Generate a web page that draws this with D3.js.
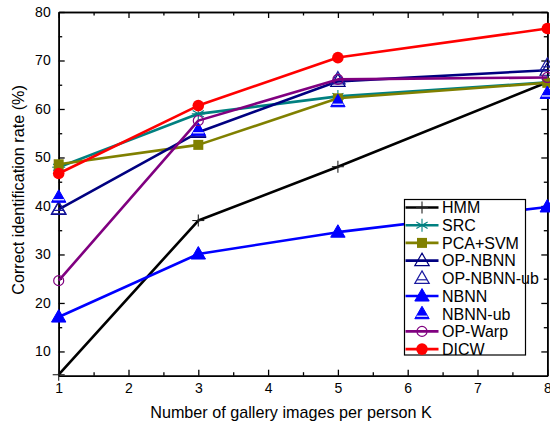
<!DOCTYPE html>
<html>
<head>
<meta charset="utf-8">
<script src="https://cdn.jsdelivr.net/npm/d3@7"></script>
<style>
  html, body { margin: 0; padding: 0; background: #fff; }
  svg { display: block; font-family: "Liberation Sans", Arial, sans-serif; }
</style>
</head>
<body>
<svg id="chart" width="550" height="430"></svg>
<script>
// Gallery sizes (images per person) on the x axis
const galleryK = [1, 3, 5, 8];

// Recognition rates (%) per method
const hmm      = [5.2, 37.0, 48.1, 65.5];
const src      = [48.0, 59.0, 62.6, 65.5];
const pcaSvm   = [48.6, 52.6, 62.2, 65.4];
const opNbnn   = [39.3, 55.2, 65.7, 68.0];
const opNbnnUb = [39.4, 55.4, 66.2, 69.0];
const nbnn     = [17.1, 30.1, 34.6, 39.8];
const nbnnUb   = [41.8, 55.6, 61.5, 63.2];
const opWarp   = [24.6, 57.6, 66.1, 66.5];
const dicw     = [46.7, 60.7, 70.6, 76.6];

const methodNames = ["HMM", "SRC", "PCA+SVM", "OP-NBNN", "OP-NBNN-ub", "NBNN", "NBNN-ub", "OP-Warp", "DICW"];

const xTicks = [1, 2, 3, 4, 5, 6, 7, 8];
const yTicks = [10, 20, 30, 40, 50, 60, 70, 80];

const series = [
  { name: methodNames[0], values: hmm,      color: "#000000", line: true,  marker: "plus" },
  { name: methodNames[1], values: src,      color: "#008080", line: true,  marker: "asterisk" },
  { name: methodNames[2], values: pcaSvm,   color: "#808000", line: true,  marker: "square" },
  { name: methodNames[3], values: opNbnn,   color: "#000080", line: true,  marker: "triOpen" },
  { name: methodNames[4], values: opNbnnUb, color: "#1a1aa0", line: false, marker: "triOpenBar" },
  { name: methodNames[5], values: nbnn,     color: "#0000ff", line: true,  marker: "triFilled" },
  { name: methodNames[6], values: nbnnUb,   color: "#0000ff", line: false, marker: "triFilledBar" },
  { name: methodNames[7], values: opWarp,   color: "#800080", line: true,  marker: "circleOpen" },
  { name: methodNames[8], values: dicw,     color: "#ff0000", line: true,  marker: "circleFilled" }
];

const svg = d3.select("#chart");
const plotLeft = 58.7, plotRight = 547.3, plotTop = 12, plotBottom = 375.7;

const x = d3.scaleLinear().domain([1, 8]).range([plotLeft, plotRight]);
const y = d3.scaleLinear().domain([5, 80]).range([plotBottom, plotTop]);

// Axes: ticks point inward on all four sides
function styleAxis(g) {
  g.select(".domain").attr("stroke", "#000").attr("stroke-width", 1.6);
  g.selectAll(".tick line").attr("stroke", "#000").attr("stroke-width", 1.3);
  g.selectAll(".tick text").attr("fill", "#000").attr("font-size", 14);
}

const minorX = d3.range(1.5, 8, 1);
const minorY = d3.range(15, 80, 10);

svg.append("g").attr("transform", `translate(0,${plotBottom})`)
  .call(d3.axisBottom(x).tickValues(xTicks).tickFormat(d3.format("d")).tickSize(-6).tickSizeOuter(0).tickPadding(7))
  .call(styleAxis);
svg.append("g").attr("transform", `translate(0,${plotBottom})`)
  .call(d3.axisBottom(x).tickValues(minorX).tickFormat("").tickSize(-3.5).tickSizeOuter(0))
  .call(styleAxis);
svg.append("g").attr("transform", `translate(0,${plotTop})`)
  .call(d3.axisTop(x).tickValues(xTicks).tickFormat("").tickSize(-6).tickSizeOuter(0))
  .call(styleAxis);
svg.append("g").attr("transform", `translate(0,${plotTop})`)
  .call(d3.axisTop(x).tickValues(minorX).tickFormat("").tickSize(-3.5).tickSizeOuter(0))
  .call(styleAxis);

svg.append("g").attr("transform", `translate(${plotLeft},0)`)
  .call(d3.axisLeft(y).tickValues(yTicks).tickFormat(d3.format("d")).tickSize(-6).tickSizeOuter(0).tickPadding(8))
  .call(styleAxis);
svg.append("g").attr("transform", `translate(${plotLeft},0)`)
  .call(d3.axisLeft(y).tickValues(minorY).tickFormat("").tickSize(-3.5).tickSizeOuter(0))
  .call(styleAxis);
svg.append("g").attr("transform", `translate(${plotRight},0)`)
  .call(d3.axisRight(y).tickValues(yTicks).tickFormat("").tickSize(-6).tickSizeOuter(0))
  .call(styleAxis);
svg.append("g").attr("transform", `translate(${plotRight},0)`)
  .call(d3.axisRight(y).tickValues(minorY).tickFormat("").tickSize(-3.5).tickSizeOuter(0))
  .call(styleAxis);

// Axis titles
svg.append("text")
  .attr("x", 291).attr("y", 418)
  .attr("text-anchor", "middle")
  .attr("font-size", 16.2)
  .attr("fill", "#000")
  .text("Number of gallery images per person K");

svg.append("text")
  .attr("transform", "translate(24,190) rotate(-90)")
  .attr("text-anchor", "middle")
  .attr("font-size", 16.2)
  .attr("fill", "#000")
  .text("Correct identification rate (%)");

// Marker drawing
function drawMarker(g, type, color, cx, cy) {
  const tri = (s) => `M${cx},${cy - s * 0.62} L${cx + s * 0.6},${cy + s * 0.42} L${cx - s * 0.6},${cy + s * 0.42} Z`;
  switch (type) {
    case "plus":
      g.append("line").attr("x1", cx).attr("x2", cx).attr("y1", cy - 6).attr("y2", cy + 6)
        .attr("stroke", "#222").attr("stroke-width", 1.1);
      g.append("line").attr("x1", cx - 6).attr("x2", cx + 6).attr("y1", cy).attr("y2", cy)
        .attr("stroke", "#222").attr("stroke-width", 1.1);
      break;
    case "asterisk":
      [0, 60, 120].forEach(a => {
        const r = 6.5, t = a * Math.PI / 180;
        g.append("line")
          .attr("x1", cx - r * Math.sin(t)).attr("y1", cy - r * Math.cos(t))
          .attr("x2", cx + r * Math.sin(t)).attr("y2", cy + r * Math.cos(t))
          .attr("stroke", color).attr("stroke-width", 1.1);
      });
      g.append("line").attr("x1", cx - 6.5).attr("x2", cx + 6.5).attr("y1", cy).attr("y2", cy)
        .attr("stroke", color).attr("stroke-width", 1.1);
      break;
    case "square":
      g.append("rect").attr("x", cx - 5).attr("y", cy - 5).attr("width", 10).attr("height", 10)
        .attr("fill", color);
      break;
    case "triOpen":
      g.append("path").attr("d", tri(12)).attr("fill", "none").attr("stroke", color).attr("stroke-width", 1.2);
      break;
    case "triOpenBar":
      g.append("path").attr("d", tri(12)).attr("fill", "none").attr("stroke", color).attr("stroke-width", 1.2);
      g.append("line").attr("x1", cx - 5).attr("x2", cx + 5).attr("y1", cy + 1.5).attr("y2", cy + 1.5)
        .attr("stroke", color).attr("stroke-width", 1.2);
      break;
    case "triFilled":
      g.append("path").attr("d", tri(12)).attr("fill", color).attr("stroke", color).attr("stroke-width", 1);
      break;
    case "triFilledBar":
      g.append("path").attr("d", tri(12)).attr("fill", color).attr("stroke", color).attr("stroke-width", 1);
      g.append("line").attr("x1", cx - 5.5).attr("x2", cx + 5.5).attr("y1", cy + 2.5).attr("y2", cy + 2.5)
        .attr("stroke", "#fff").attr("stroke-width", 1.2);
      break;
    case "circleOpen":
      g.append("circle").attr("cx", cx).attr("cy", cy).attr("r", 5).attr("fill", "none")
        .attr("stroke", color).attr("stroke-width", 1.2);
      break;
    case "circleFilled":
      g.append("circle").attr("cx", cx).attr("cy", cy).attr("r", 5.8).attr("fill", color);
      break;
  }
}

// Series lines and markers (later series on top)
const lineGen = d3.line().x((d, i) => x(galleryK[i])).y(d => y(d));
const plot = svg.append("g");
series.forEach(s => {
  const g = plot.append("g");
  if (s.line) {
    g.append("path").datum(s.values).attr("d", lineGen)
      .attr("fill", "none").attr("stroke", s.color).attr("stroke-width", 2.6)
      .attr("stroke-linejoin", "round");
  }
  s.values.forEach((v, i) => drawMarker(g, s.marker, s.color, x(galleryK[i]), y(v)));
});

// Legend
const lg = svg.append("g");
const lgX = 404.5, lgY = 199.5, lgW = 121, lgH = 155.5, rowH = 17.7;
lg.append("rect").attr("x", lgX).attr("y", lgY).attr("width", lgW).attr("height", lgH)
  .attr("fill", "#fff").attr("stroke", "#000").attr("stroke-width", 1.2);
series.forEach((s, i) => {
  const cy = lgY + 8 + i * rowH;
  const g = lg.append("g");
  if (s.line) {
    g.append("line").attr("x1", lgX + 1).attr("x2", lgX + 34).attr("y1", cy).attr("y2", cy)
      .attr("stroke", s.color).attr("stroke-width", 2.6);
  }
  drawMarker(g, s.marker, s.color, lgX + 17.5, cy);
  g.append("text").attr("x", lgX + 37.5).attr("y", cy + 5.8)
    .attr("font-size", 16).attr("fill", "#000").text(s.name);
});
</script>
</body>
</html>
